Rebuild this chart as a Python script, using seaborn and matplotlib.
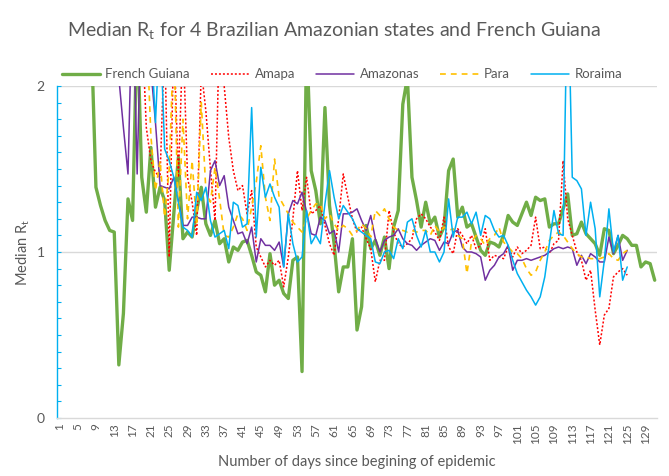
import numpy as np
import pandas as pd
import matplotlib
matplotlib.use("Agg")
import matplotlib.pyplot as plt
from matplotlib.ticker import MultipleLocator, FixedLocator
import seaborn as sns

# ---------------- data ----------------
n_days = 131
tick_days = list(range(1, 130, 4))

fg_start = 8
french_guiana = [
    2.3, 1.39, 1.28, 1.19, 1.13, 1.12, 0.32, 0.63, 1.32, 1.19,
    2.4, 1.45, 1.24, 1.63, 1.27, 1.39, 1.31, 0.89, 1.23, 1.57,
    1.08, 1.12, 1.09, 1.25, 1.39, 1.17, 1.10, 1.19, 1.05, 1.08,
    0.94, 1.03, 1.01, 1.06, 1.07, 0.98, 0.88, 0.86, 0.76, 0.99,
    0.80, 0.83, 0.75, 0.72, 0.95, 0.97, 0.28, 2.3, 1.49, 1.37,
    1.17, 1.87, 1.28, 1.05, 0.76, 0.91, 0.91, 1.08, 0.53, 0.67,
    1.16, 1.02, 1.07, 0.98, 1.09, 0.90, 1.15, 1.25, 1.89, 2.05,
    1.45, 1.31, 1.15, 1.30, 1.17, 1.21, 1.09, 1.15, 1.49, 1.56,
    1.21, 1.27, 1.15, 1.17, 1.09, 1.01, 0.98, 1.06, 1.05, 1.03,
    1.10, 1.22, 1.18, 1.16, 1.23, 1.30, 1.22, 1.33, 1.31, 1.32,
    1.15, 1.17, 1.17, 1.26, 1.35, 1.10, 1.11, 1.18, 1.11, 1.08,
    1.05, 0.98, 1.14, 1.13, 0.99, 1.04, 1.10, 1.08, 1.04, 1.04,
    0.91, 0.94, 0.93, 0.83,
]

amapa_start = 19
amapa = [
    2.4, 1.75, 1.55, 1.48, 1.45, 2.3, 0.97, 2.3, 1.45, 2.3,
    1.45, 1.30, 1.10, 2.1, 1.85, 1.50, 1.19, 2.4, 2.0, 1.69,
    1.49, 1.37, 1.40, 1.23, 1.37, 1.03, 0.97, 0.91, 0.95, 0.92,
    0.95, 0.79, 0.97, 1.20, 1.49, 1.25, 1.45, 1.23, 1.25, 1.28,
    1.16, 1.05, 0.98, 1.20, 1.47, 1.33, 1.20, 1.12, 1.15, 1.08,
    1.02, 0.82, 0.95, 0.95, 1.25, 1.12, 1.05, 1.03, 1.05, 1.08,
    1.20, 1.23, 1.20, 1.15, 1.12, 1.07, 1.21, 1.03, 0.99, 1.14,
    1.10, 1.05, 1.10, 1.02, 1.04, 1.14, 0.95, 0.98, 0.97, 0.96,
    1.03, 0.97, 1.03, 0.99, 1.01, 1.04, 1.21, 1.02, 1.03, 0.99,
    1.05, 1.07, 1.55, 1.20, 1.10, 1.00, 0.95, 0.83, 0.89, 0.65,
    0.44, 0.62, 0.66, 0.85, 0.88, 0.90, 0.86,
]

amazonas_start = 14
amazonas = [
    2.05, 1.75, 1.47, 2.6, 1.47, 2.6, 2.4, 2.1, 1.78, 1.40,
    1.39, 1.38, 1.45, 1.31, 1.16, 1.16, 1.21, 1.21, 1.20, 1.20,
    1.49, 1.55, 1.40, 1.46, 1.27, 1.19, 1.11, 1.12, 1.05, 1.15,
    0.94, 1.08, 1.04, 1.04, 1.01, 1.06, 0.91, 1.23, 1.31, 1.29,
    1.36, 1.24, 1.11, 1.10, 1.21, 1.19, 1.11, 1.13, 1.00, 1.23,
    1.23, 1.24, 1.26, 1.19, 1.13, 1.22, 1.08, 1.00, 1.07, 1.09,
    1.10, 1.14, 1.08, 1.05, 1.04, 1.01, 1.04, 1.06, 1.08, 1.07,
    1.01, 1.06, 1.05, 1.12, 1.13, 1.03, 1.00, 1.00, 0.99, 0.97,
    0.83, 0.89, 0.92, 0.97, 0.99, 1.04, 0.89, 0.95, 0.95, 0.96,
    0.95, 0.96, 0.97, 0.98, 1.00, 1.02, 1.03, 1.02, 1.03, 1.02,
    0.92, 0.98, 0.93, 0.99, 0.97, 0.94, 0.94, 1.09, 0.99, 1.10,
    0.95, 1.01,
]

para_start = 20
para = [
    2.4, 1.7, 1.37, 1.55, 1.21, 1.50, 2.3, 1.15, 1.80, 1.20,
    1.55, 1.16, 1.90, 1.37, 1.30, 1.51, 1.32, 1.10, 1.09, 1.15,
    1.23, 1.20, 1.13, 1.27, 1.42, 1.64, 1.33, 1.19, 1.56, 1.33,
    1.28, 1.23, 1.18, 1.15, 1.12, 1.20, 1.25, 1.29, 1.29, 1.20,
    1.23, 1.17, 1.13, 1.16, 1.14, 1.10, 1.13, 1.17, 1.14, 1.09,
    1.25, 1.22, 1.26, 1.20, 1.15, 1.13, 1.13, 1.12, 1.13, 1.12,
    1.13, 1.13, 1.10, 1.16, 1.12, 1.15, 1.13, 1.14, 1.10, 1.08,
    0.87, 1.06, 1.10, 1.08, 1.04, 1.08, 1.10, 1.15, 1.06, 1.03,
    1.00, 0.99, 0.96, 0.90, 0.86, 0.88, 0.95, 1.00, 1.07, 1.10,
    1.12, 1.10, 1.06, 1.02, 0.99, 0.97, 0.97, 0.96, 0.96, 0.96,
    0.97, 0.99, 0.96, 0.95, 0.99, 1.01,
]

roraima_start = 21
roraima = [
    2.3, 1.78, 2.4, 1.62, 1.55, 1.45, 1.30, 1.15, 1.13, 1.09,
    1.36, 1.31, 1.39, 1.19, 1.09, 1.11, 1.13, 1.02, 1.30, 1.28,
    1.15, 1.17, 1.87, 1.09, 1.51, 1.33, 1.41, 1.33, 1.27, 0.91,
    1.23, 1.05, 0.94, 0.97, 1.25, 1.05, 1.10, 1.05, 1.29, 1.49,
    1.33, 1.20, 1.28, 1.24, 1.20, 1.14, 1.12, 1.10, 1.08, 0.94,
    0.93, 1.00, 1.01, 0.96, 1.08, 1.02, 1.18, 1.20, 1.10, 1.03,
    1.13, 1.00, 1.00, 0.94, 1.00, 1.32, 1.09, 1.21, 1.21, 1.24,
    1.17, 1.24, 1.10, 1.22, 1.20, 1.13, 1.09, 1.10, 1.04, 0.95,
    0.87, 0.82, 0.77, 0.73, 0.68, 0.73, 0.85, 1.05, 1.25, 1.11,
    1.10, 2.7, 1.45, 1.43, 1.38, 1.10, 1.30, 1.14, 0.73, 0.95,
    1.26, 1.00, 1.10, 0.83, 0.91,
]

series_names = ["French Guiana", "Amapa", "Amazonas", "Para", "Roraima"]
series_vals = [french_guiana, amapa, amazonas, para, roraima]
series_start = [fg_start, amapa_start, amazonas_start, para_start, roraima_start]

colors = ["#70AD47", "#FF0000", "#7030A0", "#FFC000", "#00B0F0"]
widths = [2.4, 1.1, 1.1, 1.2, 1.1]
styles = ["-", (0, (1.3, 1.3)), "-", (0, (3.5, 3)), "-"]

frames = []
for name, vals, start in zip(series_names, series_vals, series_start):
    frames.append(pd.DataFrame({"day": np.arange(start, start + len(vals)),
                                "rt": vals, "state": name}))
df = pd.concat(frames, ignore_index=True)

# ---------------- plot ----------------
sns.set_theme(style="white")
plt.rcParams['font.family'] = ['Lato', 'DejaVu Sans']
grey = "#595959"

fig = plt.figure(figsize=(6.69, 4.76), dpi=100)
ax = fig.add_axes([57 / 669, 58 / 476, 600 / 669, 332 / 476])

for y in (1, 2):
    ax.axhline(y, color="#D9D9D9", lw=1.0, zorder=0)

for name, c, w, ls in zip(series_names, colors, widths, styles):
    sub = df[df["state"] == name]
    sns.lineplot(data=sub, x="day", y="rt", ax=ax, color=c, lw=w,
                 linestyle=ls, label=name, estimator=None, sort=True)

ax.set_xlim(0.5, n_days + 0.5)
ax.set_ylim(0, 2)

ax.xaxis.set_major_locator(FixedLocator(tick_days))
ax.set_xticklabels([str(d) for d in tick_days], rotation=90, fontsize=8.5, color=grey)
ax.tick_params(axis="x", length=0, pad=4)

ax.yaxis.set_major_locator(FixedLocator([0, 1, 2]))
ax.yaxis.set_minor_locator(MultipleLocator(0.1))
ax.set_yticklabels(["0", "1", "2"], fontsize=10, color=grey)
ax.tick_params(axis="y", which="both", direction="in", length=3, width=0.8,
               color="#00B0F0", left=True, pad=9)

for s in ("top", "right"):
    ax.spines[s].set_visible(False)
ax.spines["left"].set_color("#00B0F0")
ax.spines["left"].set_linewidth(1.0)
ax.spines["bottom"].set_color("#D9D9D9")
ax.spines["bottom"].set_linewidth(1.0)

ax.set_xlabel("Number of days since begining of epidemic", fontsize=10.5,
              color=grey, labelpad=8)
ax.set_ylabel("")
fig.text(23 / 669, 1 - 252 / 476, "Median R$_\\mathregular{t}$", rotation=90,
         ha="center", va="center", fontsize=10.5, color=grey)

fig.text(0.5, 1 - 31 / 476,
         "Median R$_\\mathregular{t}$ for 4 Brazilian Amazonian states and French Guiana",
         ha="center", va="center", fontsize=14, color=grey)

handles, labels = ax.get_legend_handles_labels()
ax.get_legend().remove()
fig.legend(handles, labels, loc="center", bbox_to_anchor=(342 / 669, 1 - 74.5 / 476),
           ncol=5, frameon=False, fontsize=9.5, handlelength=2.9,
           columnspacing=1.6, handletextpad=0.4, labelcolor=grey)

fig.savefig("out.png", dpi=100)
